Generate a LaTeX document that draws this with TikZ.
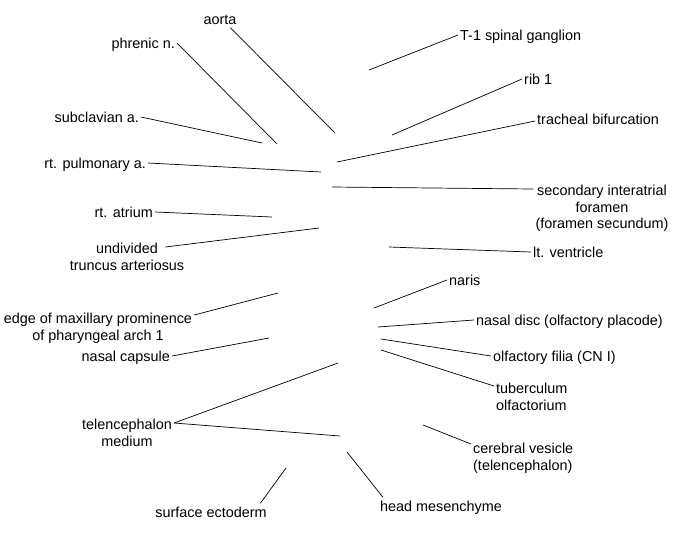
\documentclass[tikz,border=0pt]{standalone}
\usepackage{fontspec}
\setmainfont{Liberation Sans}
\usepackage{tikz}

\begin{document}
\begin{tikzpicture}[x=1pt, y=-1pt,
    lbl/.style={inner sep=2pt, font=\fontsize{14.4}{16.5}\selectfont, text height=11.5pt, text depth=1.5pt},
    multi/.style={inner sep=2pt, font=\fontsize{14.4}{16.5}\selectfont},
    pointer/.style={line width=0.7pt}]
    \useasboundingbox (0,0) rectangle (675,550);

    % labels on the left
    \node [lbl] (aorta) at (220,19) {aorta};
    \node [lbl, anchor=east] (phrenic) at (177,43) {phrenic n.};
    \node [lbl, anchor=east] (subcl) at (141,117) {subclavian a.};
    \node [lbl, anchor=east] (pulm) at (148,163) {rt. pulmonary a.};
    \node [lbl, anchor=east] (atrium) at (155,212) {rt. atrium};
    \node [multi, anchor=north, align=center] (truncus) at (127,241) {undivided\\truncus arteriosus};
    \node [multi, anchor=north, align=center] (edge) at (98,311) {edge of maxillary prominence\\of pharyngeal arch 1};
    \node [lbl, anchor=east] (capsule) at (172,356) {nasal capsule};
    \node [multi, anchor=north, align=center] (telmed) at (127,417) {telencephalon\\medium};
    \node [lbl] (ecto) at (211,512) {surface ectoderm};

    % labels on the right
    \node [lbl, anchor=west] (ganglion) at (458,35) {T-1 spinal ganglion};
    \node [lbl, anchor=west] (rib) at (522,79) {rib 1};
    \node [lbl, anchor=west] (trachea) at (535,119) {tracheal bifurcation};
    \node [multi, anchor=north, align=center] (foramen) at (602,183) {secondary interatrial\\foramen\\(foramen secundum)};
    \node [lbl, anchor=west] (ventricle) at (531,252) {lt. ventricle};
    \node [lbl, anchor=west] (naris) at (447,280) {naris};
    \node [lbl, anchor=west] (disc) at (474,320) {nasal disc (olfactory placode)};
    \node [lbl, anchor=west] (filia) at (491,356) {olfactory filia (CN I)};
    \node [multi, anchor=north west, align=left] (tuber) at (494,381) {tuberculum\\olfactorium};
    \node [multi, anchor=north west, align=left] (vesicle) at (471,441) {cerebral vesicle\\(telencephalon)};
    \node [lbl] (mesen) at (441,506) {head mesenchyme};

    % free ends of the pointers
    \coordinate (p-aorta) at (335,133);
    \coordinate (p-phrenic) at (277,144);
    \coordinate (p-subcl) at (262,143);
    \coordinate (p-pulm) at (321,172);
    \coordinate (p-atrium) at (272,217);
    \coordinate (p-truncus) at (319,228);
    \coordinate (p-edge) at (278,293);
    \coordinate (p-capsule) at (269,338);
    \coordinate (p-telmed1) at (338,363);
    \coordinate (p-telmed2) at (340,436);
    \coordinate (p-ecto) at (286,468);
    \coordinate (p-ganglion) at (369,70);
    \coordinate (p-rib) at (392,135);
    \coordinate (p-trachea) at (337,162);
    \coordinate (p-foramen) at (332,187);
    \coordinate (p-ventricle) at (389,247);
    \coordinate (p-naris) at (374,308);
    \coordinate (p-disc) at (378,327);
    \coordinate (p-filia) at (381,339);
    \coordinate (p-tuber) at (381,350);
    \coordinate (p-vesicle) at (423,425);
    \coordinate (p-mesen) at (347,452);

    \draw [pointer] (aorta.-40) -- (p-aorta);
    \draw [pointer] (phrenic.east) -- (p-phrenic);
    \draw [pointer] (subcl.east) -- (p-subcl);
    \draw [pointer] (pulm.east) -- (p-pulm);
    \draw [pointer] (atrium.east) -- (p-atrium);
    \draw [pointer] ([xshift=-21pt, yshift=-6pt]truncus.north east) -- (p-truncus);
    \draw [pointer] ([yshift=-4pt]edge.north east) -- (p-edge);
    \draw [pointer] (capsule.east) -- (p-capsule);
    \draw [pointer] ([yshift=-6pt]telmed.north east) -- (p-telmed1);
    \draw [pointer] ([yshift=-6pt]telmed.north east) -- (p-telmed2);
    \draw [pointer] (ecto.10) -- (p-ecto);

    \draw [pointer] (ganglion.west) -- (p-ganglion);
    \draw [pointer] (rib.west) -- (p-rib);
    \draw [pointer] ([yshift=-2pt]trachea.west) -- (p-trachea);
    \draw [pointer] ([yshift=-6pt]foramen.north west) -- (p-foramen);
    \draw [pointer] (ventricle.west) -- (p-ventricle);
    \draw [pointer] (naris.west) -- (p-naris);
    \draw [pointer] (disc.west) -- (p-disc);
    \draw [pointer] (filia.west) -- (p-filia);
    \draw [pointer] ([yshift=-5pt]tuber.north west) -- (p-tuber);
    \draw [pointer] ([yshift=-3pt]vesicle.north west) -- (p-vesicle);
    \draw [pointer] ([xshift=5pt]mesen.north west) -- (p-mesen);
\end{tikzpicture}
\end{document}
